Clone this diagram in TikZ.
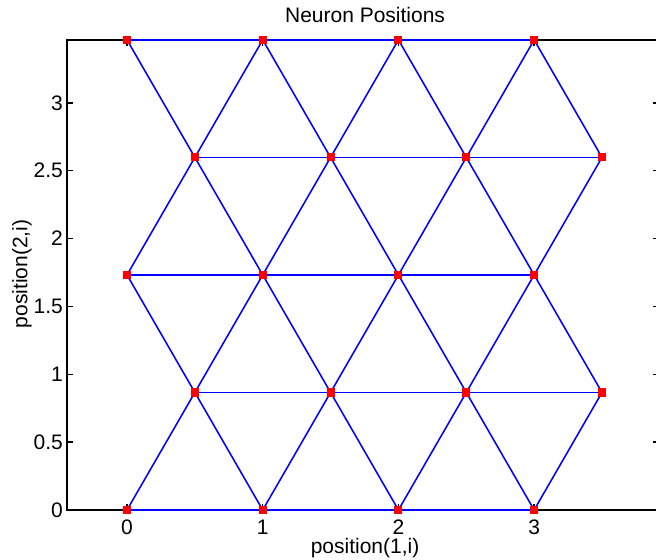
\documentclass[tikz,border=0pt]{standalone}
\usepackage{fontspec}
\setmainfont{Liberation Sans}
\usetikzlibrary{backgrounds}

\pgfdeclarelayer{front}
\pgfsetlayers{background,main,front}

\tikzset{
	neuron/.style={fill=red, draw=none, inner sep=0pt, minimum size=3.4pt, rectangle},
	link/.style={blue, line width=0.65pt},
	axisline/.style={black, line width=0.55pt},
	ticklabel/.style={font=\fontsize{8.8}{10}\selectfont, inner sep=0pt}
}

\begin{document}
\begin{tikzpicture}[x=2cm, y=2cm]
	% Frame of the figure:
	\useasboundingbox (-0.936, -0.368) rectangle (3.898, 3.758);
	\clip (-0.936, -0.368) rectangle (3.898, 3.758);

	% Axes box and ticks:
	\begin{scope}[on background layer]
		\draw[axisline] (-0.442, 0) -- (3.92, 0) -- (3.92, 3.464) -- (-0.442, 3.464) -- cycle;
		\foreach \y in {0, 0.5, 1, 1.5, 2, 2.5, 3} {
			\draw[axisline] (-0.442, \y) -- ++(0.045, 0);
			\draw[axisline] (3.92, \y) -- ++(-0.045, 0);
			\node[ticklabel, anchor=east] (yt-\y) at (-0.47, \y) {\y};
		}
		\foreach \x in {0, 1, 2, 3} {
			\draw[axisline] (\x, 0) -- ++(0, 0.045);
			\draw[axisline] (\x, 3.464) -- ++(0, -0.045);
			\node[ticklabel] (xt-\x) at (\x, -0.125) {\x};
		}
	\end{scope}

	% Labels:
	\node[ticklabel] (title) at (1.754, 3.648) {Neuron Positions};
	\node[ticklabel] (xlabel) at (1.754, -0.28) {position(1,i)};
	\node[ticklabel, rotate=90] (ylabel) at (-0.774, 1.739) {position(2,i)};

	% Neurons:
	\begin{pgfonlayer}{front}
		\foreach \r in {0, ..., 4} {
			\foreach \c in {0, ..., 3} {
				\pgfmathsetmacro{\px}{\c + 0.5*mod(\r, 2)}
				\pgfmathsetmacro{\py}{\r*0.8660254}
				\node[neuron] (n-\r-\c) at (\px, \py) {};
			}
		}
	\end{pgfonlayer}

	% Links between neighbours:
	\foreach \r in {0, ..., 4} {
		\foreach \c [count=\d] in {0, 1, 2} {
			\draw[link] (n-\r-\c.center) -- (n-\r-\d.center);
		}
	}
	\foreach \r in {0, 2} {
		\pgfmathtruncatemacro{\u}{\r + 1}
		\foreach \c in {0, ..., 3} {
			\draw[link] (n-\r-\c.center) -- (n-\u-\c.center);
		}
		\foreach \c [count=\e from 0] in {1, 2, 3} {
			\draw[link] (n-\r-\c.center) -- (n-\u-\e.center);
		}
	}
	\foreach \r in {1, 3} {
		\pgfmathtruncatemacro{\u}{\r + 1}
		\foreach \c in {0, ..., 3} {
			\draw[link] (n-\r-\c.center) -- (n-\u-\c.center);
		}
		\foreach \c [count=\e] in {0, 1, 2} {
			\draw[link] (n-\r-\c.center) -- (n-\u-\e.center);
		}
	}
\end{tikzpicture}
\end{document}
